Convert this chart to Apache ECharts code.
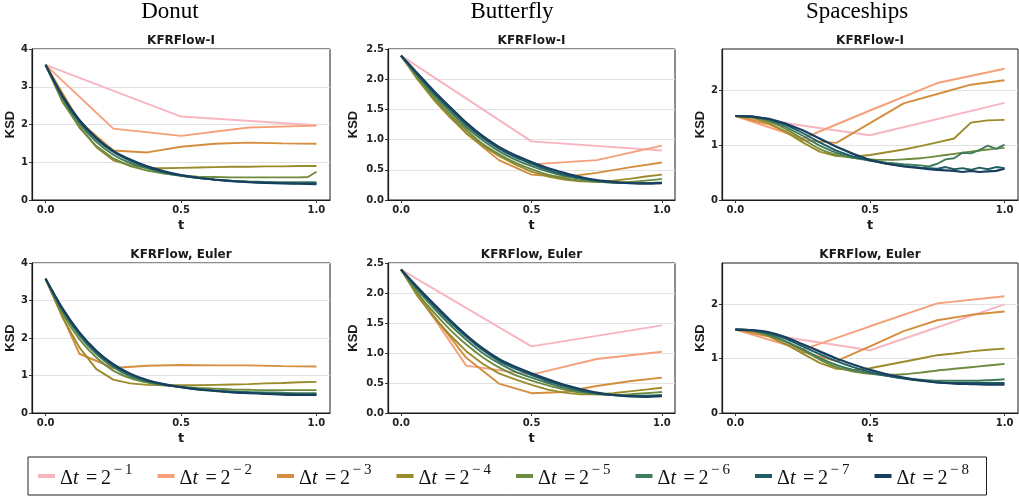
<!DOCTYPE html>
<html><head><meta charset="utf-8">
<script src="https://cdn.jsdelivr.net/npm/echarts@6/dist/echarts.min.js"></script>
<style>html,body{margin:0;padding:0;background:#fff}#c{width:1019px;height:499px}</style>
</head><body><div id="c"></div>
<script>
// ---- time grids (step sizes 2^-1 ... 2^-8, fine ones sampled) ----
const T_h = [0, 0.5, 1];
const T_q = [0, 0.25, 0.5, 0.75, 1];
const T_e = [0, 0.125, 0.25, 0.375, 0.5, 0.625, 0.75, 0.875, 1];
const T_s = [0, 0.0625, 0.125, 0.1875, 0.25, 0.3125, 0.375, 0.4375, 0.5, 0.5625, 0.625, 0.6875, 0.75, 0.8125, 0.875, 0.9375, 1];
const T_sEnd = [0, 0.0625, 0.125, 0.1875, 0.25, 0.3125, 0.375, 0.4375, 0.5, 0.5625, 0.625, 0.6875, 0.75, 0.8125, 0.875, 0.9375, 0.96875, 1];
const T_mix = [0, 0.0625, 0.125, 0.1875, 0.25, 0.3125, 0.375, 0.4375, 0.5, 0.5625, 0.625, 0.6875, 0.71875, 0.75, 0.78125, 0.8125, 0.84375, 0.875, 0.90625, 0.9375, 0.96875, 1];

// ---- tick labels ----
const X_TICKS = [0, 0.5, 1];
const DONUT_TICKS = [0, 1, 2, 3, 4];
const BFLY_TICKS = [0, 0.5, 1, 1.5, 2, 2.5];
const SP_TICKS = [0, 1, 2];

// ---- legend: exponents of Δt = 2^-k ----
const EXPONENTS = [1, 2, 3, 4, 5, 6, 7, 8];

// ---- Donut, KFRFlow-I ----
const donutI_1 = [3.58, 2.21, 1.98];
const donutI_2 = [3.58, 1.89, 1.70, 1.92, 1.97];
const donutI_3 = [3.58, 2.08, 1.31, 1.26, 1.41, 1.49, 1.52, 1.50, 1.49];
const donutI_4 = [3.58, 2.60, 1.95, 1.40, 1.05, 0.92, 0.85, 0.84, 0.85, 0.86, 0.87, 0.88, 0.88, 0.89, 0.89, 0.90, 0.90];
const donutI_5 = [3.58, 2.62, 1.92, 1.43, 1.10, 0.90, 0.78, 0.70, 0.65, 0.62, 0.61, 0.60, 0.60, 0.60, 0.60, 0.60, 0.61, 0.75];
const donutI_6 = [3.58, 2.70, 2.03, 1.54, 1.20, 0.98, 0.84, 0.72, 0.64, 0.58, 0.54, 0.51, 0.49, 0.48, 0.47, 0.47, 0.47];
const donutI_7 = [3.58, 2.73, 2.08, 1.61, 1.27, 1.04, 0.87, 0.74, 0.65, 0.59, 0.54, 0.50, 0.48, 0.46, 0.45, 0.44, 0.44];
const donutI_8 = [3.58, 2.76, 2.12, 1.65, 1.30, 1.07, 0.89, 0.76, 0.66, 0.59, 0.54, 0.50, 0.47, 0.45, 0.44, 0.43, 0.42];

// ---- Donut, KFRFlow Euler (2^-1, 2^-2 off scale) ----
const donutE_3 = [3.58, 1.58, 1.20, 1.26, 1.28, 1.27, 1.27, 1.25, 1.24];
const donutE_4 = [3.58, 2.55, 1.75, 1.17, 0.89, 0.79, 0.75, 0.74, 0.74, 0.74, 0.75, 0.76, 0.77, 0.79, 0.80, 0.82, 0.83];
const donutE_5 = [3.58, 2.65, 1.97, 1.48, 1.13, 0.93, 0.81, 0.74, 0.70, 0.67, 0.65, 0.63, 0.62, 0.61, 0.61, 0.61, 0.61];
const donutE_6 = [3.58, 2.72, 2.06, 1.57, 1.22, 0.98, 0.84, 0.75, 0.69, 0.64, 0.60, 0.58, 0.56, 0.55, 0.54, 0.53, 0.53];
const donutE_7 = [3.58, 2.76, 2.11, 1.62, 1.27, 1.02, 0.86, 0.76, 0.69, 0.63, 0.59, 0.56, 0.54, 0.52, 0.51, 0.50, 0.50];
const donutE_8 = [3.58, 2.79, 2.15, 1.66, 1.30, 1.05, 0.88, 0.77, 0.69, 0.63, 0.59, 0.55, 0.53, 0.51, 0.49, 0.48, 0.48];

// ---- Butterfly, KFRFlow-I ----
const bflyI_1 = [2.39, 0.97, 0.82];
const bflyI_2 = [2.39, 1.18, 0.59, 0.66, 0.90];
const bflyI_3 = [2.39, 1.72, 1.10, 0.66, 0.42, 0.38, 0.45, 0.54, 0.62];
const bflyI_4 = [2.39, 2.00, 1.66, 1.37, 1.11, 0.90, 0.73, 0.59, 0.47, 0.39, 0.34, 0.31, 0.30, 0.32, 0.35, 0.39, 0.42];
const bflyI_5 = [2.39, 2.03, 1.70, 1.42, 1.16, 0.93, 0.76, 0.62, 0.51, 0.42, 0.36, 0.32, 0.30, 0.29, 0.30, 0.32, 0.35];
const bflyI_6 = [2.39, 2.06, 1.75, 1.47, 1.21, 0.99, 0.81, 0.67, 0.56, 0.47, 0.40, 0.35, 0.31, 0.29, 0.28, 0.28, 0.29];
const bflyI_7 = [2.39, 2.08, 1.78, 1.51, 1.25, 1.03, 0.85, 0.71, 0.60, 0.50, 0.42, 0.36, 0.32, 0.29, 0.28, 0.28, 0.28];
const bflyI_8 = [2.39, 2.10, 1.81, 1.54, 1.28, 1.06, 0.88, 0.74, 0.63, 0.53, 0.45, 0.38, 0.33, 0.30, 0.28, 0.27, 0.28];

// ---- Butterfly, KFRFlow Euler ----
const bflyE_1 = [2.39, 1.11, 1.46];
const bflyE_2 = [2.39, 0.79, 0.64, 0.90, 1.02];
const bflyE_3 = [2.39, 1.62, 0.92, 0.49, 0.33, 0.35, 0.45, 0.53, 0.59];
const bflyE_4 = [2.39, 1.95, 1.60, 1.30, 1.03, 0.82, 0.66, 0.56, 0.47, 0.39, 0.34, 0.31, 0.31, 0.33, 0.36, 0.39, 0.42];
const bflyE_5 = [2.39, 2.00, 1.68, 1.39, 1.14, 0.93, 0.76, 0.63, 0.54, 0.46, 0.39, 0.34, 0.31, 0.30, 0.31, 0.33, 0.35];
const bflyE_6 = [2.39, 2.05, 1.75, 1.47, 1.22, 1.00, 0.83, 0.69, 0.59, 0.50, 0.42, 0.36, 0.32, 0.30, 0.29, 0.29, 0.30];
const bflyE_7 = [2.39, 2.08, 1.79, 1.52, 1.27, 1.05, 0.87, 0.74, 0.63, 0.53, 0.45, 0.38, 0.33, 0.30, 0.28, 0.28, 0.29];
const bflyE_8 = [2.39, 2.10, 1.82, 1.55, 1.30, 1.08, 0.90, 0.77, 0.66, 0.56, 0.47, 0.40, 0.34, 0.30, 0.28, 0.27, 0.28];

// ---- Spaceships, KFRFlow-I ----
const spI_1 = [1.53, 1.18, 1.77];
const spI_2 = [1.53, 1.12, 1.63, 2.13, 2.39];
const spI_3 = [1.53, 1.38, 1.09, 1.04, 1.40, 1.76, 1.93, 2.10, 2.18];
const spI_4 = [1.53, 1.50, 1.40, 1.24, 1.05, 0.88, 0.80, 0.79, 0.82, 0.87, 0.92, 0.98, 1.05, 1.12, 1.41, 1.45, 1.46];
const spI_5 = [1.53, 1.51, 1.43, 1.29, 1.11, 0.93, 0.82, 0.77, 0.74, 0.73, 0.74, 0.76, 0.80, 0.84, 0.88, 0.92, 0.95];
const spI_6 = [1.53, 1.52, 1.45, 1.33, 1.17, 0.99, 0.86, 0.77, 0.72, 0.68, 0.65, 0.63, 0.61, 0.66, 0.74, 0.76, 0.86, 0.85, 0.91, 0.99, 0.93, 1.01];
const spI_7 = [1.53, 1.52, 1.47, 1.37, 1.22, 1.05, 0.90, 0.79, 0.72, 0.66, 0.62, 0.59, 0.58, 0.57, 0.60, 0.56, 0.58, 0.55, 0.59, 0.56, 0.60, 0.58];
const spI_8 = [1.53, 1.52, 1.48, 1.39, 1.27, 1.12, 0.97, 0.84, 0.73, 0.66, 0.61, 0.58, 0.56, 0.55, 0.54, 0.53, 0.51, 0.53, 0.51, 0.52, 0.53, 0.57];

// ---- Spaceships, KFRFlow Euler ----
const spE_1 = [1.53, 1.15, 1.99];
const spE_2 = [1.53, 1.16, 1.59, 2.01, 2.14];
const spE_3 = [1.53, 1.40, 1.12, 0.95, 1.22, 1.50, 1.70, 1.80, 1.86];
const spE_4 = [1.53, 1.50, 1.41, 1.26, 1.09, 0.92, 0.81, 0.79, 0.82, 0.88, 0.94, 1.00, 1.06, 1.09, 1.13, 1.16, 1.18];
const spE_5 = [1.53, 1.51, 1.44, 1.31, 1.15, 0.98, 0.84, 0.76, 0.72, 0.70, 0.71, 0.74, 0.78, 0.81, 0.84, 0.87, 0.90];
const spE_6 = [1.53, 1.51, 1.43, 1.31, 1.17, 1.01, 0.88, 0.79, 0.73, 0.68, 0.64, 0.61, 0.59, 0.59, 0.59, 0.60, 0.62];
const spE_7 = [1.53, 1.52, 1.46, 1.36, 1.22, 1.08, 0.95, 0.84, 0.75, 0.68, 0.63, 0.59, 0.56, 0.55, 0.55, 0.55, 0.55];
const spE_8 = [1.53, 1.52, 1.48, 1.39, 1.26, 1.13, 1.00, 0.89, 0.79, 0.71, 0.65, 0.60, 0.56, 0.54, 0.53, 0.52, 0.52];

// ---- styling / layout ----
const COLORS = ['#f8b5c0', '#f6a07a', '#d48e3e', '#9a8b2b', '#6f8b3f', '#3f7b5c', '#1f5d63', '#173f5f'];
const COLS = [{left: 32, width: 298}, {left: 388, width: 287}, {left: 722, width: 296}];
const ROWS = [{top: 49, height: 151}, {top: 263, height: 150}];
const DATASET_TITLES = ['Donut', 'Butterfly', 'Spaceships'];
const METHOD_TITLES = ['KFRFlow-I', 'KFRFlow, Euler'];
const Y_CFG = [
  {max: 4, interval: 1, ticks: DONUT_TICKS, fmt: v => String(v), nameGap: 12},
  {max: 2.5, interval: 0.5, ticks: BFLY_TICKS, fmt: v => v.toFixed(1), nameGap: 28},
  {max: 2.75, interval: 1, ticks: SP_TICKS, fmt: v => String(v), nameGap: 14}
];

const PANELS = [
  {col: 0, row: 0, sets: [[T_h, donutI_1], [T_q, donutI_2], [T_e, donutI_3], [T_s, donutI_4], [T_sEnd, donutI_5], [T_s, donutI_6], [T_s, donutI_7], [T_s, donutI_8]]},
  {col: 1, row: 0, sets: [[T_h, bflyI_1], [T_q, bflyI_2], [T_e, bflyI_3], [T_s, bflyI_4], [T_s, bflyI_5], [T_s, bflyI_6], [T_s, bflyI_7], [T_s, bflyI_8]]},
  {col: 2, row: 0, sets: [[T_h, spI_1], [T_q, spI_2], [T_e, spI_3], [T_s, spI_4], [T_s, spI_5], [T_mix, spI_6], [T_mix, spI_7], [T_mix, spI_8]]},
  {col: 0, row: 1, sets: [null, null, [T_e, donutE_3], [T_s, donutE_4], [T_s, donutE_5], [T_s, donutE_6], [T_s, donutE_7], [T_s, donutE_8]]},
  {col: 1, row: 1, sets: [[T_h, bflyE_1], [T_q, bflyE_2], [T_e, bflyE_3], [T_s, bflyE_4], [T_s, bflyE_5], [T_s, bflyE_6], [T_s, bflyE_7], [T_s, bflyE_8]]},
  {col: 2, row: 1, sets: [[T_h, spE_1], [T_q, spE_2], [T_e, spE_3], [T_s, spE_4], [T_s, spE_5], [T_s, spE_6], [T_s, spE_7], [T_s, spE_8]]}
];

const SANS = 'DejaVu Sans';
const grids = [], xAxes = [], yAxes = [], series = [], graphics = [];

PANELS.forEach((p, i) => {
  const c = COLS[p.col], r = ROWS[p.row], yc = Y_CFG[p.col];
  grids.push({left: c.left, top: r.top, width: c.width, height: r.height, show: true,
    borderColor: '#1a1a1a', borderWidth: 1, backgroundColor: 'transparent'});
  xAxes.push({
    type: 'value', gridIndex: i, min: -0.05, max: 1.05,
    name: 't', nameLocation: 'middle', nameGap: 19,
    nameTextStyle: {fontFamily: SANS, fontWeight: 'bold', fontSize: 13, color: '#1a1a1a'},
    axisLine: {show: true, onZero: false, lineStyle: {color: '#1a1a1a', width: 1.2}},
    axisTick: {show: true, customValues: X_TICKS, length: 3, lineStyle: {color: '#333'}},
    axisLabel: {customValues: X_TICKS, formatter: v => v.toFixed(1), margin: 5,
      fontFamily: SANS, fontWeight: 'bold', fontSize: 10, color: '#222'},
    splitLine: {show: false}
  });
  yAxes.push({
    type: 'value', gridIndex: i, min: 0, max: yc.max, interval: yc.interval,
    name: 'KSD', nameLocation: 'middle', nameGap: yc.nameGap, nameRotate: 90,
    nameTextStyle: {fontFamily: 'Liberation Sans', fontWeight: 'bold', fontSize: 13, color: '#1a1a1a'},
    axisLine: {show: true, onZero: false, lineStyle: {color: '#1a1a1a', width: 1.2}},
    axisTick: {show: true, customValues: yc.ticks, length: 3, lineStyle: {color: '#333'}},
    axisLabel: {customValues: yc.ticks, formatter: yc.fmt, margin: 4,
      fontFamily: SANS, fontWeight: 'bold', fontSize: 10, color: '#222'},
    splitLine: {show: true, lineStyle: {color: '#e2e2e2', width: 1}}
  });
  p.sets.forEach((s, k) => {
    if (!s) return;
    const [ts, vs] = s;
    series.push({
      type: 'line', name: 'dt' + EXPONENTS[k], xAxisIndex: i, yAxisIndex: i,
      data: ts.map((t, j) => [t, vs[j]]),
      symbol: 'none', showSymbol: false,
      smooth: (k >= 4 && ts === T_s) ? 0.2 : false,
      lineStyle: {color: COLORS[k], width: k === 7 ? 2.2 : 1.9},
      itemStyle: {color: COLORS[k]},
      emphasis: {disabled: true}, z: 2 + k
    });
  });
  const cx = c.left + c.width / 2;
  graphics.push({type: 'text', x: cx, y: r.top - 8,
    style: {text: METHOD_TITLES[p.row], align: 'center', verticalAlign: 'middle',
      font: 'bold 12px "DejaVu Sans"', fill: '#1a1a1a'}});
  if (p.row === 0) {
    graphics.push({type: 'text', x: [170, 512, 857][p.col], y: 12,
      style: {text: DATASET_TITLES[p.col], align: 'center', verticalAlign: 'middle',
        font: '23px "Liberation Serif"', fill: '#000'}});
  }
});

const SERIF = 'Liberation Serif';
const option = {
  animation: false,
  grid: grids, xAxis: xAxes, yAxis: yAxes, series: series,
  graphic: graphics,
  legend: {
    left: 28, top: 457, orient: 'horizontal',
    data: EXPONENTS.map(e => 'dt' + e),
    icon: 'rect', itemWidth: 17, itemHeight: 4, itemGap: 15.5,
    borderColor: '#222', borderWidth: 1, padding: [6, 8, 6, 10],
    selectedMode: false,
    formatter: name => '{a|Δ}{b|t}{c|=}{e|2}{f|−\u2009' + name.slice(2) + '}',
    textStyle: {
      color: '#111',
      rich: {
        a: {fontFamily: SERIF, fontSize: 20, width: 13, lineHeight: 26, verticalAlign: 'bottom'},
        b: {fontFamily: SERIF, fontSize: 20, fontStyle: 'italic', width: 13, lineHeight: 26, verticalAlign: 'bottom'},
        c: {fontFamily: SERIF, fontSize: 20, width: 15, lineHeight: 26, verticalAlign: 'bottom'},
        e: {fontFamily: SERIF, fontSize: 20, width: 12.5, lineHeight: 26, verticalAlign: 'bottom'},
        f: {fontFamily: SERIF, fontSize: 15, width: 28.5, lineHeight: 14, verticalAlign: 'top'}
      }
    }
  }
};
const chart = echarts.init(document.getElementById('c'));
chart.setOption(option);
</script></body></html>
